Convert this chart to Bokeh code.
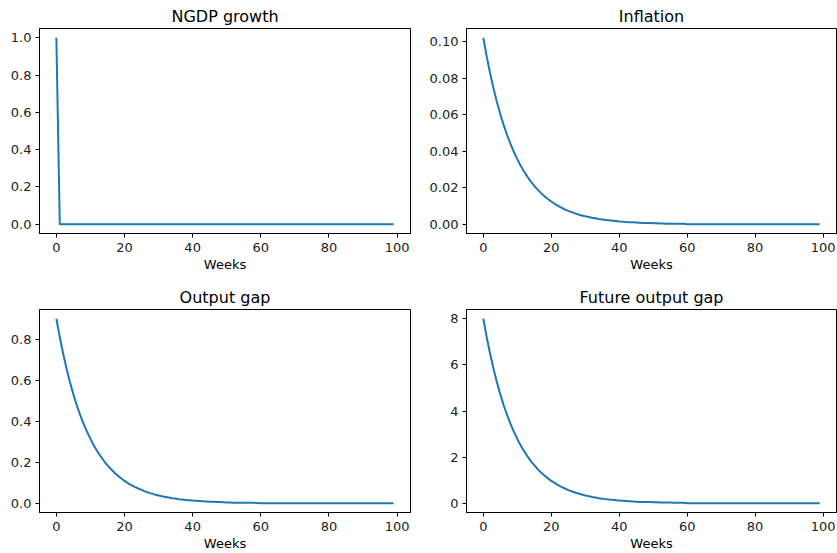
from bokeh.plotting import figure
from bokeh.layouts import column, row
from bokeh.models import Range1d, FixedTicker, NumeralTickFormatter
from bokeh.embed import file_html
from bokeh.resources import INLINE

weeks = list(range(100))

ngdp_growth = [1.0] + [0.0] * 99

inflation = [
    0.102, 0.0918, 0.0826, 0.0744, 0.0669, 0.0602, 0.0542, 0.0488, 0.0439, 0.0395,
    0.0356, 0.0320, 0.0288, 0.0259, 0.0233, 0.0210, 0.0189, 0.0170, 0.0153, 0.0138,
    0.0124, 0.0112, 0.0100, 0.0090, 0.0081, 0.0073, 0.0066, 0.0059, 0.0053, 0.0048,
    0.0043, 0.0039, 0.0035, 0.0032, 0.0028, 0.0026, 0.0023, 0.0021, 0.0019, 0.0017,
    0.0015, 0.0014, 0.0012, 0.0011, 0.0010, 0.0009, 0.0008, 0.0007, 0.0007, 0.0006,
    0.0005, 0.0005, 0.0004, 0.0004, 0.0003, 0.0003, 0.0003, 0.0002, 0.0002, 0.0002,
] + [0.0] * 40

output_gap = [
    0.900, 0.810, 0.729, 0.656, 0.590, 0.531, 0.478, 0.430, 0.387, 0.349,
    0.314, 0.282, 0.254, 0.229, 0.206, 0.185, 0.167, 0.150, 0.135, 0.122,
    0.109, 0.098, 0.089, 0.080, 0.072, 0.065, 0.058, 0.052, 0.047, 0.042,
    0.038, 0.034, 0.031, 0.028, 0.025, 0.023, 0.020, 0.018, 0.016, 0.015,
    0.013, 0.012, 0.011, 0.010, 0.009, 0.008, 0.007, 0.006, 0.006, 0.005,
    0.004, 0.004, 0.003, 0.003, 0.003, 0.002, 0.002, 0.002, 0.002, 0.001,
] + [0.0] * 40

future_output_gap = [
    8.00, 7.20, 6.48, 5.83, 5.25, 4.72, 4.25, 3.83, 3.44, 3.10,
    2.79, 2.51, 2.26, 2.03, 1.83, 1.65, 1.48, 1.33, 1.20, 1.08,
    0.97, 0.88, 0.79, 0.71, 0.64, 0.57, 0.52, 0.47, 0.42, 0.38,
    0.34, 0.31, 0.27, 0.25, 0.22, 0.20, 0.18, 0.16, 0.15, 0.13,
    0.12, 0.11, 0.10, 0.09, 0.08, 0.07, 0.06, 0.06, 0.05, 0.05,
    0.04, 0.04, 0.03, 0.03, 0.03, 0.03, 0.02, 0.02, 0.02, 0.02,
] + [0.0] * 40

titles = ["NGDP growth", "Inflation", "Output gap", "Future output gap"]
series = [ngdp_growth, inflation, output_gap, future_output_gap]
x_ticks = [0, 20, 40, 60, 80, 100]
y_ticks = [
    [0.0, 0.2, 0.4, 0.6, 0.8, 1.0],
    [0.0, 0.02, 0.04, 0.06, 0.08, 0.10],
    [0.0, 0.2, 0.4, 0.6, 0.8],
    [0, 2, 4, 6, 8],
]
y_formats = ["0.0", "0.00", "0.0", "0"]
x_label = "Weeks"

FONT = "DejaVu Sans"
LINE = "#1f77b4"

# geometry per panel: width, height, border left/right/top/bottom
geom = [
    (425, 278, 39, 15, 28, 45),
    (412, 278, 41, 1, 28, 45),
    (425, 275, 39, 15, 31, 40),
    (412, 275, 41, 1, 31, 40),
]


def make(i):
    w, h, bl, br, bt, bb = geom[i]
    vals = series[i]
    ymin, ymax = min(vals), max(vals)
    pad = (ymax - ymin) * 0.05
    xpad = (max(weeks) - min(weeks)) * 0.05
    p = figure(width=w, height=h, output_backend="svg", toolbar_location=None,
               x_range=Range1d(min(weeks) - xpad, max(weeks) + xpad),
               y_range=Range1d(ymin - pad, ymax + pad),
               min_border_left=bl, min_border_right=br,
               min_border_top=bt, min_border_bottom=bb)
    p.line(weeks, vals, line_color=LINE, line_width=2)
    p.title.text = titles[i]
    p.title.align = "center"
    p.title.text_font = FONT
    p.title.text_font_size = "16px"
    p.title.text_font_style = "normal"
    p.title.text_color = "#000000"
    p.title.standoff = 5
    p.outline_line_color = "#000000"
    p.outline_line_width = 1
    p.outline_line_alpha = 1
    p.xgrid.visible = False
    p.ygrid.visible = False
    p.xaxis.ticker = FixedTicker(ticks=x_ticks)
    p.yaxis.ticker = FixedTicker(ticks=y_ticks[i])
    p.yaxis.formatter = NumeralTickFormatter(format=y_formats[i])
    p.xaxis.axis_label = x_label
    for ax in (p.xaxis, p.yaxis):
        ax.axis_line_color = "#000000"
        ax.major_tick_line_color = "#000000"
        ax.major_tick_out = 4
        ax.major_tick_in = 0
        ax.minor_tick_line_color = None
        ax.major_label_text_font = FONT
        ax.major_label_text_font_size = "13px"
        ax.major_label_text_color = "#222222"
        ax.major_label_standoff = 4
    p.xaxis.major_label_standoff = 5
    p.xaxis.axis_label_text_font = FONT
    p.xaxis.axis_label_text_font_size = "13px"
    p.xaxis.axis_label_text_font_style = "normal"
    p.xaxis.axis_label_text_color = "#000000"
    p.xaxis.axis_label_standoff = 2
    p.background_fill_color = "white"
    p.border_fill_color = "white"
    return p


plots = [make(i) for i in range(4)]
layout = column(row(plots[0], plots[1]), row(plots[2], plots[3]))
open("out.html", "w").write(file_html(layout, INLINE))
